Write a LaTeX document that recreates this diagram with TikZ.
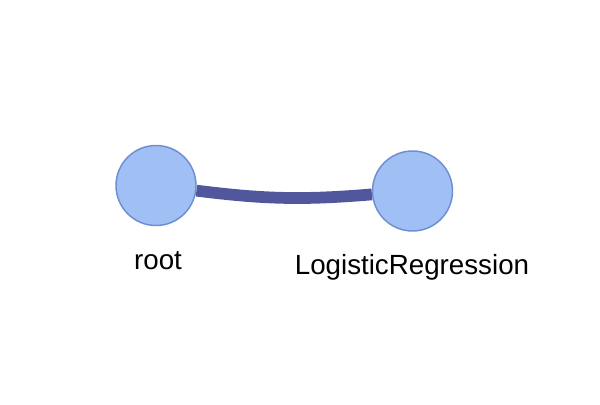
\documentclass[tikz,border=0pt]{standalone}
\usepackage{fontspec}
\setmainfont{Liberation Sans}
\usetikzlibrary{backgrounds}
\definecolor{nodefill}{HTML}{A0C0F5}
\definecolor{nodeline}{HTML}{6E8ED0}
\definecolor{edgecol}{HTML}{51579D}
\tikzset{
  vnode/.style={circle, fill=nodefill, draw=nodeline, line width=1.1pt, minimum size=60pt, inner sep=0pt},
  vlabel/.style={font=\fontsize{20.8}{24}\selectfont, anchor=base, inner sep=0pt},
  vedge/.style={draw=edgecol, line width=8.8pt}
}
\begin{document}
\begin{tikzpicture}[x=0.75pt, y=0.75pt]
\useasboundingbox (0,0) rectangle (600,404);
\node[vnode] (root) at (156,218.5) {};
\node[vnode] (lr) at (412.5,213) {};
\node[vlabel] (rootlab) at (158,135) {root};
\node[vlabel] (lrlab) at (412,129.5) {LogisticRegression};
\begin{pgfonlayer}{background}
\draw[vedge] (root) to[bend right=6] (lr);
\end{pgfonlayer}
\end{tikzpicture}
\end{document}
